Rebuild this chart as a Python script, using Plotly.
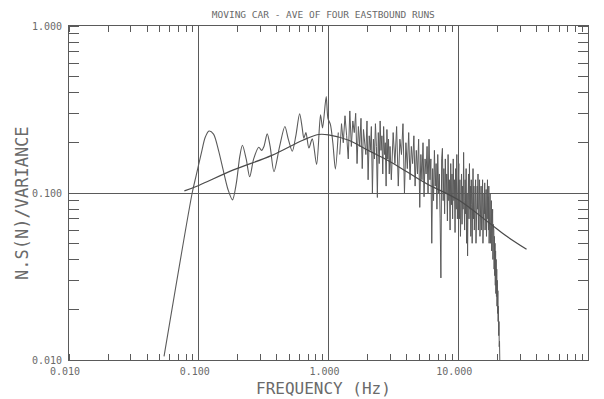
import plotly.graph_objects as go

# ---- data ----
# low-frequency part of the measured spectrum (smooth oscillations)
freq_low = [0.054, 0.089, 0.095, 0.105, 0.112, 0.120, 0.130, 0.142, 0.155, 0.168,
            0.182, 0.195, 0.207, 0.217, 0.232, 0.247, 0.265, 0.290, 0.305, 0.318,
            0.337, 0.355, 0.380, 0.420, 0.461, 0.490, 0.526, 0.560, 0.599, 0.625,
            0.646, 0.670, 0.706, 0.750, 0.810, 0.868, 0.900, 0.960, 0.990, 1.035,
            1.080, 1.130, 1.190]
spec_low = [0.0105, 0.100, 0.125, 0.175, 0.215, 0.235, 0.225, 0.180, 0.135, 0.105,
            0.091, 0.115, 0.165, 0.193, 0.160, 0.125, 0.160, 0.188, 0.180, 0.190,
            0.226, 0.190, 0.134, 0.190, 0.250, 0.210, 0.178, 0.220, 0.298, 0.250,
            0.213, 0.230, 0.186, 0.211, 0.148, 0.294, 0.245, 0.378, 0.280, 0.257,
            0.200, 0.139, 0.230]

# 1.2 - 3 Hz
freq_a = [1.22, 1.26, 1.30, 1.34, 1.38, 1.42, 1.46, 1.50, 1.54, 1.58,
          1.62, 1.66, 1.70, 1.74, 1.78, 1.82, 1.86, 1.90, 1.94, 1.98,
          2.02, 2.06, 2.10, 2.14, 2.18, 2.22, 2.26, 2.30, 2.34, 2.38,
          2.42, 2.46, 2.50, 2.54, 2.58, 2.62, 2.66, 2.70, 2.74, 2.78,
          2.82, 2.86, 2.90, 2.94, 2.98]
spec_a = [0.17, 0.26, 0.20, 0.29, 0.22, 0.16, 0.31, 0.19, 0.27, 0.23,
          0.30, 0.15, 0.25, 0.19, 0.28, 0.14, 0.24, 0.21, 0.17, 0.27,
          0.12, 0.22, 0.18, 0.25, 0.10, 0.21, 0.16, 0.26, 0.19, 0.094,
          0.23, 0.15, 0.27, 0.18, 0.22, 0.13, 0.25, 0.17, 0.20, 0.11,
          0.24, 0.16, 0.21, 0.13, 0.19]

# 3 - 10 Hz
freq_b = [3.05, 3.15, 3.25, 3.35, 3.45, 3.55, 3.65, 3.75, 3.85, 3.95,
          4.05, 4.15, 4.25, 4.35, 4.45, 4.55, 4.65, 4.75, 4.85, 4.95,
          5.05, 5.15, 5.25, 5.35, 5.45, 5.55, 5.65, 5.75, 5.85, 5.95,
          6.05, 6.15, 6.25, 6.35, 6.45, 6.55, 6.65, 6.75, 6.85, 6.95,
          7.05, 7.15, 7.25, 7.35, 7.45, 7.55, 7.65, 7.75, 7.85, 7.95,
          8.05, 8.15, 8.25, 8.35, 8.45, 8.55, 8.65, 8.75, 8.85, 8.95,
          9.05, 9.15, 9.25, 9.35, 9.45, 9.55, 9.65, 9.75, 9.85, 9.95]
spec_b = [0.12, 0.23, 0.15, 0.25, 0.11, 0.21, 0.17, 0.26, 0.10, 0.20,
          0.14, 0.23, 0.12, 0.19, 0.15, 0.22, 0.11, 0.18, 0.13, 0.21,
          0.082, 0.17, 0.12, 0.20, 0.095, 0.16, 0.13, 0.19, 0.10, 0.21,
          0.12, 0.16, 0.050, 0.14, 0.090, 0.18, 0.11, 0.15, 0.080, 0.17,
          0.10, 0.13, 0.070, 0.031, 0.16, 0.185, 0.090, 0.14, 0.075, 0.16,
          0.10, 0.13, 0.068, 0.17, 0.090, 0.12, 0.060, 0.15, 0.085, 0.13,
          0.070, 0.16, 0.090, 0.12, 0.058, 0.14, 0.080, 0.17, 0.070, 0.12]

# 10 - 21 Hz
freq_c = [10.1, 10.2, 10.3, 10.4, 10.5, 10.6, 10.7, 10.8, 10.9, 11.0,
          11.1, 11.2, 11.3, 11.4, 11.5, 11.6, 11.7, 11.8, 11.9, 12.0,
          12.1, 12.2, 12.3, 12.4, 12.5, 12.6, 12.7, 12.8, 12.9, 13.0,
          13.1, 13.2, 13.3, 13.4, 13.5, 13.6, 13.7, 13.8, 13.9, 14.0,
          14.1, 14.2, 14.3, 14.4, 14.5, 14.6, 14.7, 14.8, 14.9, 15.0,
          15.1, 15.2, 15.3, 15.4, 15.5, 15.6, 15.7, 15.8, 15.9, 16.0,
          16.1, 16.2, 16.3, 16.4, 16.5, 16.6, 16.7, 16.8, 16.9, 17.0,
          17.1, 17.2, 17.3, 17.4, 17.5, 17.6, 17.7, 17.8, 17.9, 18.0,
          18.1, 18.2, 18.3, 18.4, 18.5, 18.6, 18.7, 18.8, 18.9, 19.0,
          19.1, 19.2, 19.3, 19.4, 19.5, 19.6, 19.7, 19.8, 19.9, 20.0,
          20.1, 20.2, 20.3, 20.4, 20.5, 20.6, 20.7, 20.8, 20.9]
spec_c = [0.15, 0.070, 0.12, 0.055, 0.10, 0.13, 0.065, 0.11, 0.080, 0.175,
          0.090, 0.060, 0.12, 0.075, 0.14, 0.050, 0.10, 0.042, 0.090, 0.13,
          0.070, 0.15, 0.080, 0.11, 0.055, 0.12, 0.085, 0.050, 0.10, 0.14,
          0.070, 0.11, 0.060, 0.095, 0.075, 0.12, 0.050, 0.090, 0.065, 0.11,
          0.080, 0.13, 0.060, 0.10, 0.070, 0.12, 0.055, 0.090, 0.075, 0.11,
          0.060, 0.095, 0.070, 0.12, 0.050, 0.085, 0.065, 0.10, 0.075, 0.115,
          0.060, 0.090, 0.070, 0.105, 0.055, 0.085, 0.065, 0.12, 0.070, 0.095,
          0.060, 0.11, 0.050, 0.085, 0.065, 0.10, 0.050, 0.085, 0.060, 0.090,
          0.045, 0.075, 0.055, 0.080, 0.040, 0.065, 0.045, 0.060, 0.035, 0.055,
          0.032, 0.050, 0.028, 0.045, 0.025, 0.040, 0.024, 0.035, 0.021, 0.030,
          0.019, 0.026, 0.017, 0.021, 0.014, 0.017, 0.012, 0.013, 0.010]

# fitted smooth spectrum
freq_fit = [0.0775, 0.100, 0.183, 0.366, 0.634, 0.835, 1.00, 1.43, 2.02, 2.85,
            4.02, 5.67, 10.0, 17.4, 22.9, 33.6]
spec_fit = [0.103, 0.111, 0.137, 0.168, 0.207, 0.224, 0.223, 0.207, 0.180, 0.157,
            0.134, 0.114, 0.091, 0.066, 0.056, 0.046]

x_tick_vals = [0.01, 0.1, 1, 10, 100]
x_tick_text = ["0.010", "0.100", "1.000", "10.000", "100.000"]
y_tick_vals = [0.01, 0.1, 1]
y_tick_text = ["0.010", "0.100", "1.000"]

INK = "#5a5a5a"
TXT = "#6a6a6a"
MONO = "DejaVu Sans Mono, Liberation Mono, monospace"

# page body has an 8px margin: figure size / margins compensate for it
W, H = 596, 391
ML, MR, MT, MB = 61, 16, 16, 39
PH = H - MT - MB
PW = W - ML - MR

freq_noise = freq_a + freq_b + freq_c
spec_noise = spec_a + spec_b + spec_c

fig = go.Figure()
fig.add_trace(go.Scatter(x=freq_low, y=spec_low, mode="lines",
                         line=dict(color=INK, width=1.1, shape="spline", smoothing=0.8),
                         hoverinfo="skip"))
fig.add_trace(go.Scatter(x=freq_noise, y=spec_noise, mode="lines",
                         line=dict(color=INK, width=1), hoverinfo="skip"))
fig.add_trace(go.Scatter(x=freq_fit, y=spec_fit, mode="lines",
                         line=dict(color="#4a4a4a", width=1.2, shape="spline"),
                         hoverinfo="skip"))

fig.update_layout(
    width=W, height=H,
    margin=dict(l=ML, r=MR, t=MT, b=MB),
    paper_bgcolor="white", plot_bgcolor="white",
    showlegend=False,
    title=dict(text="MOVING CAR - AVE OF FOUR EASTBOUND RUNS",
               x=0.49, xref="paper", xanchor="center",
               y=1 - 7 / H, yref="container", yanchor="middle",
               font=dict(family=MONO, size=9.5, color=TXT)),
    xaxis=dict(type="log", range=[-2, 2],
               tickmode="array", tickvals=x_tick_vals, ticktext=x_tick_text,
               ticks="", ticklabelshift=-4, ticklabelstandoff=2,
               tickfont=dict(family=MONO, size=10, color=TXT),
               showgrid=True, gridcolor=INK, gridwidth=1,
               showline=True, linecolor=INK, linewidth=1, mirror="ticks",
               zeroline=False,
               minor=dict(ticks="inside", ticklen=6, tickcolor=INK, dtick="D1",
                          showgrid=False)),
    yaxis=dict(type="log", range=[-2, 0],
               tickmode="array", tickvals=y_tick_vals, ticktext=y_tick_text,
               ticks="", ticklabelstandoff=4,
               tickfont=dict(family=MONO, size=10, color=TXT),
               showgrid=True, gridcolor=INK, gridwidth=1,
               showline=True, linecolor=INK, linewidth=1, mirror="ticks",
               zeroline=False,
               minor=dict(ticks="inside", ticklen=10, tickcolor=INK, dtick="D1",
                          showgrid=False)),
    annotations=[
        dict(text="FREQUENCY (Hz)", xref="paper", yref="paper",
             x=0.49, y=-(389 - 8 - (H - MB)) / PH, xanchor="center", yanchor="middle",
             showarrow=False, font=dict(family=MONO, size=16, color=TXT)),
        dict(text="N.S(N)/VARIANCE", xref="paper", yref="paper",
             x=(22 - 8 - ML) / PW, y=((H - MB) - (202 - 8)) / PH,
             xanchor="center", yanchor="middle",
             textangle=-90, showarrow=False,
             font=dict(family=MONO, size=17, color=TXT)),
    ],
)

fig.write_html("out.html")
